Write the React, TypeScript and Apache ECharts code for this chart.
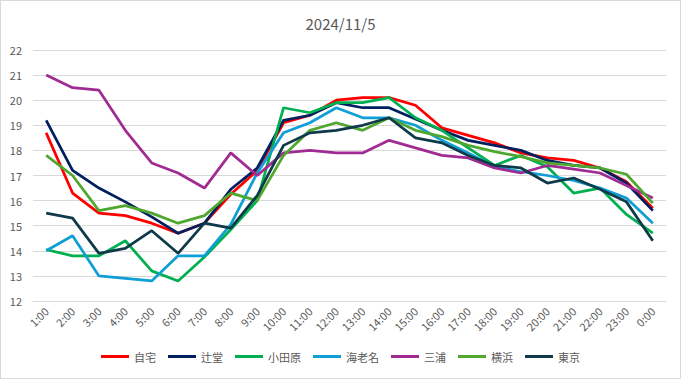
import React, { useEffect, useRef } from "react";
import * as echarts from "echarts";

const title = "2024/11/5";
const hours = ["1:00","2:00","3:00","4:00","5:00","6:00","7:00","8:00","9:00","10:00","11:00","12:00","13:00","14:00","15:00","16:00","17:00","18:00","19:00","20:00","21:00","22:00","23:00","0:00"];

const jitaku = [18.7,16.3,15.5,15.4,15.1,14.7,15.1,16.25,17.2,19.1,19.4,20.0,20.1,20.1,19.8,18.9,18.6,18.3,17.9,17.7,17.6,17.3,16.75,15.7];
const tsujido = [19.2,17.2,16.5,15.95,15.35,14.7,15.1,16.45,17.3,19.2,19.4,19.9,19.7,19.7,19.25,18.8,18.4,18.2,18.0,17.6,17.4,17.3,16.7,15.6];
const odawara = [14.05,13.8,13.8,14.4,13.2,12.8,13.75,14.85,16.0,19.7,19.5,19.9,19.9,20.1,19.3,18.8,18.1,17.4,17.8,17.35,16.3,16.5,15.45,14.7];
const ebina = [14.0,14.6,13.0,12.9,12.8,13.8,13.8,15.05,17.1,18.7,19.1,19.7,19.3,19.3,19.0,18.4,17.9,17.35,17.15,17.0,16.8,16.5,16.1,15.1];
const miura = [21.0,20.5,20.4,18.8,17.5,17.1,16.5,17.9,17.0,17.9,18.0,17.9,17.9,18.4,18.1,17.8,17.7,17.3,17.1,17.4,17.25,17.1,16.6,16.1];
const yokohama = [17.8,17.0,15.6,15.8,15.5,15.1,15.4,16.3,16.0,17.8,18.8,19.1,18.8,19.3,18.8,18.55,18.2,17.95,17.75,17.5,17.4,17.3,17.05,15.9];
const tokyo = [15.5,15.3,13.9,14.1,14.8,13.9,15.1,14.9,16.2,18.2,18.7,18.8,19.0,19.3,18.5,18.3,17.8,17.4,17.3,16.7,16.9,16.45,15.95,14.4];

const seriesNames = ["自宅","辻堂","小田原","海老名","三浦","横浜","東京"];
const seriesData = [jitaku, tsujido, odawara, ebina, miura, yokohama, tokyo];
const seriesColors = ["#FF0000","#002060","#00B050","#0F9ED5","#A02B93","#4EA72E","#0F3A4A"];

const yTicks = { min: 12, max: 22, interval: 1 };

export default function App() {
  const ref = useRef<HTMLDivElement>(null);
  useEffect(() => {
    if (!ref.current) return;
    const chart = echarts.init(ref.current, undefined, { renderer: "svg" });
    const font = "'Noto Sans CJK JP', 'Noto Sans', sans-serif";
    chart.setOption({
      animation: false,
      backgroundColor: "#ffffff",
      textStyle: { fontFamily: font },
      title: {
        text: title,
        left: "center",
        top: 10,
        textStyle: { color: "#595959", fontSize: 15, fontWeight: "normal", fontFamily: font },
      },
      legend: {
        bottom: 11,
        left: "center",
        icon: "rect",
        itemWidth: 28,
        itemHeight: 3,
        itemGap: 12,
        textStyle: { color: "#595959", fontSize: 11, fontFamily: font },
        data: seriesNames,
      },
      grid: { left: 32, right: 14, top: 49, bottom: 77 },
      xAxis: {
        type: "category",
        data: hours,
        boundaryGap: true,
        axisLine: { lineStyle: { color: "#D9D9D9" } },
        axisTick: { show: false },
        axisLabel: { rotate: 45, interval: 0, color: "#595959", fontSize: 11, margin: 8, fontFamily: font },
      },
      yAxis: {
        type: "value",
        min: yTicks.min,
        max: yTicks.max,
        interval: yTicks.interval,
        axisLine: { show: false },
        axisTick: { show: false },
        axisLabel: { color: "#595959", fontSize: 11, margin: 11, fontFamily: font },
        splitLine: { lineStyle: { color: "#D9D9D9", width: 1 } },
      },
      series: seriesNames.map((name, i) => ({
        name,
        type: "line",
        data: seriesData[i],
        showSymbol: false,
        symbol: "none",
        lineStyle: { color: seriesColors[i], width: 2.75 },
        itemStyle: { color: seriesColors[i] },
      })),
    });
    return () => chart.dispose();
  }, []);
  return (
    <div
      style={{
        position: "absolute",
        left: 0,
        top: 0,
        width: 681,
        height: 379,
        boxSizing: "border-box",
        border: "1px solid #D9D9D9",
        background: "#fff",
      }}
    >
      <div ref={ref} style={{ width: 679, height: 377 }} />
    </div>
  );
}
